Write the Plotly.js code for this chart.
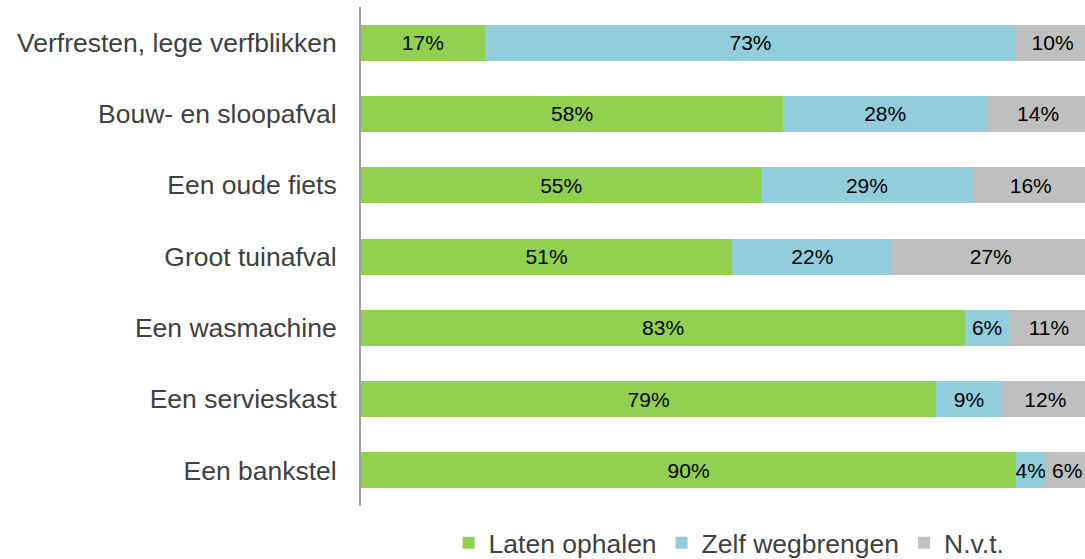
<!DOCTYPE html>
<html>
<head>
<meta charset="utf-8">
<script src="https://cdn.plot.ly/plotly-3.0.1.min.js"></script>
<style>html,body{margin:0;padding:0;background:#fff;}#chart{width:1085px;height:559px;}</style>
</head>
<body>
<div id="chart"></div>
<script>
const categories = [
  "Verfresten, lege verfblikken",
  "Bouw- en sloopafval",
  "Een oude fiets",
  "Groot tuinafval",
  "Een wasmachine",
  "Een servieskast",
  "Een bankstel"
];
const latenOphalen = [17, 58, 55, 51, 83, 79, 90];
const zelfWegbrengen = [73, 28, 29, 22, 6, 9, 4];
const nvt = [10, 14, 16, 27, 11, 12, 6];
const seriesNames = ["Laten ophalen", "Zelf wegbrengen", "N.v.t."];
const seriesColors = ["#92D050", "#92CDDC", "#BFBFBF"];
const seriesValues = [latenOphalen, zelfWegbrengen, nvt];

const traces = seriesValues.map((vals, i) => ({
  type: 'bar',
  orientation: 'h',
  name: seriesNames[i],
  y: categories,
  x: vals,
  marker: {color: seriesColors[i], line: {width: 0}},
  texttemplate: '%{x}%',
  textposition: 'inside',
  insidetextanchor: 'middle',
  textangle: 0,
  constraintext: 'none',
  textfont: {family: 'Liberation Sans, Arial, sans-serif', size: 21, color: '#000000'},
  hoverinfo: 'skip'
}));

const layout = {
  width: 1085,
  height: 559,
  margin: {l: 361, r: 0, t: 7, b: 53, pad: 0},
  paper_bgcolor: '#ffffff',
  plot_bgcolor: '#ffffff',
  barmode: 'stack',
  bargap: 0.495,
  showlegend: true,
  font: {family: 'Liberation Sans, Arial, sans-serif', color: '#404040'},
  xaxis: {
    range: [0, 99.45],
    visible: false,
    fixedrange: true
  },
  yaxis: {
    categoryorder: 'array',
    categoryarray: categories,
    autorange: 'reversed',
    showline: true,
    linecolor: '#a0a0a0',
    linewidth: 2,
    showgrid: false,
    zeroline: false,
    ticks: '',
    ticklabelstandoff: 17,
    tickfont: {family: 'Liberation Sans, Arial, sans-serif', size: 26.5, color: '#404040'},
    fixedrange: true
  },
  legend: {
    orientation: 'h',
    traceorder: 'normal',
    xref: 'container',
    yref: 'container',
    x: 0.672,
    xanchor: 'center',
    y: 1 - 543 / 559,
    yanchor: 'middle',
    itemwidth: 30,
    font: {family: 'Liberation Sans, Arial, sans-serif', size: 26.5, color: '#404040'},
    bgcolor: 'rgba(0,0,0,0)'
  }
};

Plotly.newPlot('chart', traces, layout, {displayModeBar: false, staticPlot: true});
</script>
</body>
</html>
